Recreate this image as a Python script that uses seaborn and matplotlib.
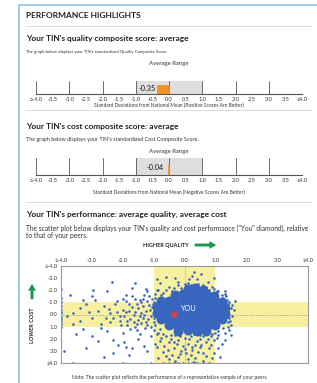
import matplotlib
matplotlib.use('Agg')
import matplotlib.pyplot as plt
import seaborn as sns
import pandas as pd

# ---------------- data ----------------
quality_score = -0.35
cost_score = -0.04
strip_ticks = [-4.0, -3.5, -3.0, -2.5, -2.0, -1.5, -1.0, -0.5, 0.0, 0.5, 1.0, 1.5, 2.0, 2.5, 3.0, 3.5, 4.0]
strip_tick_labels = ['≤-4.0', '-3.5', '-3.0', '-2.5', '-2.0', '-1.5', '-1.0', '-0.5', '0.0', '0.5',
                     '1.0', '1.5', '2.0', '2.5', '3.0', '3.5', '≥4.0']
scatter_ticks = [-4.0, -3.0, -2.0, -1.0, 0.0, 1.0, 2.0, 3.0, 4.0]
scatter_x_labels = ['≤-4.0', '-3.0', '-2.0', '-1.0', '0.0', '1.0', '2.0', '3.0', '≥4.0']
scatter_y_labels = ['≤-4.0', '-3.0', '-2.0', '-1.0', '0.0', '1.0', '2.0', '3.0', '≥4.0']

# dense core of peers (drawn with large markers)
core_quality = [0.1, 0.35, 0.6,
                -0.3, -0.05, 0.2, 0.45, 0.7, 0.95,
                -0.75, -0.5, -0.25, 0.0, 0.25, 0.5, 0.75, 1.0, 1.2,
                -0.9, -0.65, -0.4, -0.15, 0.1, 0.35, 0.6, 0.85, 1.1, 1.3,
                -0.9, -0.65, -0.4, -0.15, 0.1, 0.35, 0.6, 0.85, 1.1, 1.3,
                -0.75, -0.5, -0.25, 0.0, 0.25, 0.5, 0.75, 1.0, 1.2,
                -0.5, -0.25, 0.0, 0.25, 0.5, 0.75, 1.0,
                -0.2, 0.1, 0.4, 0.7]
core_cost = [-2.1, -2.15, -2.05,
             -1.6, -1.65, -1.55, -1.6, -1.65, -1.5,
             -1.1, -1.15, -1.05, -1.1, -1.1, -1.15, -1.05, -1.1, -1.0,
             -0.6, -0.55, -0.65, -0.6, -0.6, -0.55, -0.6, -0.65, -0.6, -0.55,
             -0.1, -0.05, -0.1, -0.15, -0.1, -0.05, -0.1, -0.1, -0.15, -0.05,
             0.4, 0.45, 0.4, 0.35, 0.4, 0.45, 0.4, 0.35, 0.4,
             0.9, 0.85, 0.9, 0.95, 0.9, 0.85, 0.9,
             1.35, 1.3, 1.4, 1.35]

# individual scattered peers
peer_quality = [
    # left edge column (clipped at <= -4.0)
    -4.0, -4.0, -4.0, -4.0, -4.0, -4.0, -4.0, -4.0, -4.0, -4.0, -4.0, -4.0,
    # left tail
    -3.7, -3.4, -3.2, -3.0, -2.8, -2.6, -2.4, -2.2, -2.1, -3.6, -3.8, -3.5, -3.2, -2.8, -2.5,
    -2.3, -3.9, -3.3, -2.9, -2.7, -3.1, -2.35, -2.95, -2.0, -2.05, -2.15, -3.6, -3.0, -2.4, -2.6,
    -3.0, -2.5, -3.3, -2.0, -2.7, -3.4, -2.2, -2.55, -1.9, -2.3,
    # mid-left
    -1.9, -1.85, -1.8, -1.75, -1.7, -1.65, -1.6, -1.55, -1.5, -1.45, -1.4, -1.35, -1.3, -1.25,
    -1.2, -1.15, -1.1, -1.05, -1.0, -1.95, -1.7, -1.5, -1.3, -1.2, -1.8, -1.1, -1.6, -1.25,
    -1.4, -1.2, -1.05, -1.7, -1.9, -1.55,
    -2.45, -2.3, -2.25, -2.1, -2.0, -1.95, -1.9, -1.85, -1.8, -1.75, -1.7, -1.65, -1.6, -1.55,
    -1.5, -1.45, -1.4, -1.35, -1.3, -1.28, -1.22, -1.18, -1.12, -1.08, -1.02, -1.15, -1.35,
    -1.6, -1.45, -1.25,
    # above the core
    -0.6, 0.25, -0.2, 0.1, 0.4, 0.6, 0.75, -0.5, -0.1, 0.9, -0.4, 1.05, -0.75, 0.3,
    -0.8, -0.3, 0.55, 0.15, -0.9,
    # right edge streak
    1.35, 1.38, 1.4, 1.35, 1.42, 1.37, 1.45, 1.4, 1.5, 1.45, 1.55, 1.6, 1.55, 1.65, 1.5, 1.3, 1.2,
    # below the core
    -0.9, -0.6, -0.3, 0.0, 0.3, 0.6, 0.9, 1.05,
    -0.8, -0.5, -0.2, 0.1, 0.4, 0.7, 0.95,
    -0.9, -0.65, -0.35, -0.05, 0.25, 0.5, 0.8,
    -0.7, -0.4, -0.1, 0.2, 0.45, 0.7, 0.95,
    -0.85, -0.5, -0.2, 0.1, 0.35, 0.6,
    -0.75, -0.45, 0.15, 0.55, 0.85, -0.25, 0.35, -0.55, 0.05, 0.6,
    -0.95, -0.6, 0.9, 0.3, -0.3, 1.1, 1.15, -0.15, 0.5, 0.75, -0.35, 0.25, 0.0,
    # bottom row (clipped at >= 4.0)
    -3.6, -2.0, -1.1, -0.7, -0.5, -0.35, -0.2, -0.05, 0.1, 0.25, 0.4, 0.6, 0.8,
    # fuzzy edge of core
    -0.95, -1.0, -0.95, -0.8, -0.7, 1.2, 1.25, 1.1, -1.0, -0.9, 0.5, 0.8, -0.2, 1.3, 0.95,
    -0.95, -0.85, -0.6, -0.35, 0.0, 0.2, 0.45, 0.7, 0.95, 1.1, 1.25, 1.3, 1.45, 1.5, 1.48,
    1.4, 1.3, 1.1, 0.85, -1.0, -0.85, -0.7, -0.45, -0.15, 0.2, 0.5, 0.75, 1.0,
]
peer_cost = [
    -2.1, -1.4, -1.0, -0.7, -0.4, -0.1, 0.2, 0.5, 0.8, 1.0, -0.2, 0.4,
    -1.6, -0.5, -0.9, 0.3, -0.3, -0.7, 0.6, -1.1, 0.1, 0.8, 0.1, 1.6, 2.8, 2.2, 1.4,
    2.1, 3.0, 1.2, -1.2, 0.8, -0.2, -2.7, -2.0, -1.3, 0.9, 2.5, -0.1, 1.8, -0.1, 3.5,
    -1.5, -1.9, -1.2, 1.5, 1.1, 0.5, -0.2, 0.3, 2.7, 3.2,
    -0.2, 0.5, -0.9, 1.2, -2.2, 0.0, -1.3, 0.8, -0.5, 1.6, -1.0, 0.3, -1.6, -0.3,
    0.9, -0.8, 0.1, -1.3, 0.6, 2.3, 2.8, 2.0, 2.6, 3.0, 3.3, 1.8, -2.6, -2.1,
    -0.1, -1.9, -0.6, -0.6, -1.6, 1.3,
    -0.45, 0.25, -0.85, 0.55, -0.4, 0.15, -1.1, 0.85, -0.3, 0.35, -1.5, 0.6, -0.2, -0.9,
    0.45, -1.2, 0.7, -0.7, 0.0, 1.1, -1.1, 0.4, -0.4, 1.0, -0.9, -1.5, -1.3,
    1.0, 0.1, 0.65,
    -3.1, -3.2, -2.7, -2.6, -2.9, -2.4, -2.7, -2.3, -2.2, -2.3, -1.9, -1.9, -1.6, -3.5,
    -2.6, -3.0, -3.3, -2.9, -2.9,
    -1.5, -1.2, -0.9, -0.6, -0.3, 0.0, 0.3, 0.6, 0.9, 1.3, -0.8, -0.4, 0.1, -1.1, 1.7, 2.1, 2.4,
    1.6, 1.8, 1.7, 1.9, 1.6, 1.8, 1.6, 1.9,
    2.2, 2.3, 2.1, 2.4, 2.2, 2.3, 2.1,
    2.7, 2.6, 2.8, 2.6, 2.9, 2.7, 2.8,
    3.1, 3.3, 3.0, 3.3, 3.1, 3.4, 3.2,
    3.6, 3.7, 3.5, 3.7, 3.6, 3.8,
    1.95, 2.0, 2.05, 2.5, 2.5, 2.45, 2.55, 2.9, 3.15, 3.2,
    2.4, 3.4, 3.6, 3.9, 3.85, 2.8, 3.5, 3.25, 2.05, 2.0, 2.25, 2.7, 2.85,
    4.0, 4.0, 4.0, 4.0, 4.0, 4.0, 4.0, 4.0, 4.0, 4.0, 4.0, 4.0, 4.0,
    -1.4, -1.0, 0.9, 1.2, -1.8, -1.6, 1.1, 1.4, 0.3, -2.0, -2.2, -2.0, -2.4, -1.9, -3.0,
    -1.7, -2.0, -2.0, -2.2, -2.5, -2.4, -2.5, -2.3, -2.1, -1.9, -1.4, -1.7, -1.0, -0.5, 0.5,
    1.0, 1.5, 1.7, 1.75, 1.3, 1.5, 1.6, 1.65, 1.8, 1.75, 1.7, 1.55, 1.5,
]

# ---------------- style ----------------
sns.set_theme(style='white')
plt.rcParams['font.family'] = ['Lato', 'DejaVu Sans']

W, H = 317, 383
fig = plt.figure(figsize=(W / 100, H / 100), dpi=100)
fig.patch.set_facecolor('white')

ORANGE = '#f0921e'
RANGE_GRAY = '#dedede'
LINE = '#555555'
TXT = '#222222'
YELLOW = '#f7f0a0'
BLUE = '#3866bf'
RED = '#e04040'
GREEN = '#16994a'
BORDER = '#8cc4e8'


def ax_px(l, t, r, b, z=1):
    a = fig.add_axes([l / W, 1 - b / H, (r - l) / W, (b - t) / H])
    a.set_zorder(z)
    return a


# overlay for text and decorations
ov = ax_px(0, 0, W, H, z=0)
ov.set_xlim(0, W)
ov.set_ylim(H, 0)
ov.axis('off')

ov.plot([19, 19], [5, H], color=BORDER, lw=1.2)
ov.plot([19, W], [5, 5], color=BORDER, lw=1.2)
for yy in (26, 110, 202):
    ov.plot([26, 312], [yy, yy], color='#d6d6d6', lw=0.6)

ov.text(26, 15, 'PERFORMANCE HIGHLIGHTS', fontsize=6.0, fontweight='bold', color=TXT, va='center')

ov.text(26, 38, "Your TIN's quality composite score: average", fontsize=6.0, fontweight='bold', color=TXT, va='center')
ov.text(26, 52, "The graph below displays your TIN's standardized Quality Composite Score.", fontsize=3.1, color='#333', va='center')
ov.text(169, 64, 'Average Range', fontsize=4.3, color='#333', va='center', ha='center')
ov.text(169, 105, 'Standard Deviations from National Mean (Positive Scores Are Better)', fontsize=3.5, color='#333', va='center', ha='center')

ov.text(26, 126, "Your TIN's cost composite score: average", fontsize=6.0, fontweight='bold', color=TXT, va='center')
ov.text(26, 140, "The graph below displays your TIN's standardized Cost Composite Score.", fontsize=3.9, color='#333', va='center')
ov.text(169, 152, 'Average Range', fontsize=4.3, color='#333', va='center', ha='center')
ov.text(169, 192, 'Standard Deviations from National Mean (Negative Scores Are Better)', fontsize=3.5, color='#333', va='center', ha='center')

ov.text(26, 214, "Your TIN's performance: average quality, average cost", fontsize=6.0, fontweight='bold', color=TXT, va='center')
ov.text(26, 228, "The scatter plot below displays your TIN's quality and cost performance (\"You\" diamond), relative",
        fontsize=4.75, color='#333', va='center')
ov.text(26, 235.5, 'to that of your peers.', fontsize=4.75, color='#333', va='center')
ov.text(189, 245, 'HIGHER QUALITY', fontsize=4.0, fontweight='bold', color=TXT, va='center', ha='right')
ov.annotate('', xy=(219, 245), xytext=(192, 245),
            arrowprops=dict(arrowstyle='simple,head_length=0.7,head_width=0.8,tail_width=0.3',
                            color=GREEN, lw=0, mutation_scale=7))
ov.text(32, 325, 'LOWER COST', fontsize=4.0, fontweight='bold', color=TXT, va='center', ha='center', rotation=90)
ov.annotate('', xy=(32, 281), xytext=(32, 302),
            arrowprops=dict(arrowstyle='simple,head_length=0.7,head_width=0.8,tail_width=0.3',
                            color=GREEN, lw=0, mutation_scale=7))
ov.text(170, 377, 'Note: The scatter plot reflects the performance of a representative sample of your peers.',
        fontsize=3.6, color='#333', va='center', ha='center')


# ---------------- composite strips ----------------
def strip(top, bottom, score, name, label_offset):
    ax = ax_px(36, top, 302, bottom, z=2)
    ax.axvspan(-1, 1, color=RANGE_GRAY, zorder=0, lw=0)
    df = pd.DataFrame({'metric': [name], 'score': [score]})
    sns.barplot(data=df, x='score', y='metric', orient='h', color=ORANGE, saturation=1,
                width=0.8, ax=ax, zorder=3)
    for c in ax.containers:
        for p in c:
            p.set_zorder(3)
            p.set_edgecolor(ORANGE)
            p.set_linewidth(0.5)
    ax.set_xlim(-4, 4)
    ax.set_ylim(0.4, 0.4 - 0.8 * (bottom - top) / 9.5)
    for v in [-4, -3, -2, -1, 0, 1, 2, 3, 4]:
        ax.axvline(v, color=LINE, lw=0.6, zorder=2)
    for s in ('top', 'left', 'right'):
        ax.spines[s].set_visible(False)
    ax.spines['bottom'].set_color(LINE)
    ax.spines['bottom'].set_linewidth(0.8)
    ax.set_xticks(strip_ticks)
    ax.set_xticklabels(strip_tick_labels)
    ax.tick_params(axis='x', length=0, pad=2.5, labelsize=4.1, colors='#333')
    ax.set_yticks([])
    ax.set_xlabel('')
    ax.set_ylabel('')
    ax.patch.set_alpha(0)
    ax.text(score - label_offset, 0.4 - 0.8 * (bottom - top) / 9.5 / 2 + 0.05, f'{score:.2f}',
            ha='right', va='center', fontsize=5.2, color='#111', zorder=4)
    return ax


strip(81, 94, quality_score, 'Quality', 0.05)
strip(158, 175, cost_score, 'Cost', 0.12)

# ---------------- scatter ----------------
ax = ax_px(61, 266, 308, 363, z=2)
ax.axvspan(-1, 1, color=YELLOW, lw=0, zorder=0)
ax.axhspan(-1, 1, color=YELLOW, lw=0, zorder=0)
ax.axvline(0, color='#777', lw=0.5, ls=(0, (1, 1.5)), zorder=1)
ax.axhline(0, color='#777', lw=0.5, ls=(0, (1, 1.5)), zorder=1)

core_df = pd.DataFrame({'quality': core_quality, 'cost': core_cost})
peer_df = pd.DataFrame({'quality': peer_quality, 'cost': peer_cost})
sns.scatterplot(data=core_df, x='quality', y='cost', s=52, color=BLUE, linewidth=0, ax=ax, zorder=2)
sns.scatterplot(data=peer_df, x='quality', y='cost', s=3.5, color=BLUE, linewidth=0, ax=ax, zorder=2)
sns.scatterplot(x=[quality_score], y=[cost_score], marker='D', s=16, color=RED, linewidth=0, ax=ax, zorder=4)
ax.text(quality_score + 0.2, cost_score - 0.45, 'YOU', color='white', fontsize=5.2, va='center', ha='left', zorder=5)

ax.set_xlim(-4, 4)
ax.set_ylim(4, -4)
ax.set_xticks(scatter_ticks)
ax.set_xticklabels(scatter_x_labels)
ax.set_yticks(scatter_ticks)
ax.set_yticklabels(scatter_y_labels)
ax.xaxis.tick_top()
ax.tick_params(axis='both', length=0, pad=2.5, labelsize=4.1, colors='#333')
ax.set_xlabel('')
ax.set_ylabel('')
for s in ax.spines.values():
    s.set_color('#999999')
    s.set_linewidth(0.8)

fig.savefig('out.png', dpi=100, facecolor='white')
